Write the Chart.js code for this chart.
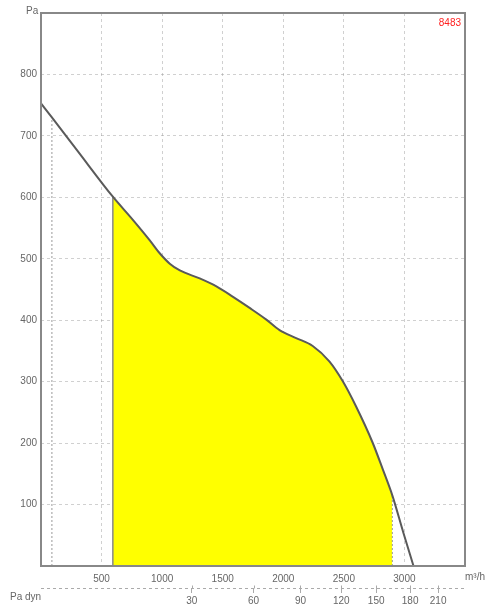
<!DOCTYPE html>
<html>
<head>
<meta charset="utf-8">
<script src="https://cdn.jsdelivr.net/npm/chart.js@4.4.1/dist/chart.umd.min.js"></script>
<style>
  html, body { margin: 0; padding: 0; background: #fff; }
  #wrap { width: 486px; height: 607px; position: relative; }
</style>
</head>
<body>
<div id="wrap"><canvas id="fanChart"></canvas></div>
<script>
// fan curve (m3/h -> Pa)
var flow     = [0, 90, 300, 593, 760, 898, 980, 1063, 1146, 1310, 1448, 1585, 1722, 1860, 1969, 2106, 2243, 2380, 2490, 2600, 2737, 2820, 2900, 2990, 3075];
var pressure = [753, 730, 676, 601, 563, 530, 509, 492, 481, 468, 455, 438, 420, 401, 384, 371, 358, 333, 301, 260, 201, 158, 115, 55, 0];

// working range (yellow) and the min flow mark
var rangeStart = 593;
var rangeEnd = 2900;
var minFlow = 90;

// dynamic pressure axis: labels and the flow where each one sits
var pdynLabels = [30, 60, 90, 120, 150, 180, 210];
var pdynFlow   = [1244, 1755, 2142, 2479, 2767, 3047, 3278];

var modelName = '8483';

var curvePts = [];
var fillPts = [];
for (var i = 0; i < flow.length; i++) {
  curvePts.push({x: flow[i], y: pressure[i]});
  if (flow[i] >= rangeStart && flow[i] <= rangeEnd) fillPts.push({x: flow[i], y: pressure[i]});
}
function pAt(q) {
  for (var j = 0; j < flow.length - 1; j++) {
    if (q >= flow[j] && q <= flow[j + 1]) {
      return pressure[j] + (pressure[j + 1] - pressure[j]) * (q - flow[j]) / (flow[j + 1] - flow[j]);
    }
  }
  return 0;
}

var gridCol = 'rgba(150,150,150,0.45)';
var txtCol = '#666';
var font10 = {family: 'Liberation Sans, Arial, sans-serif', size: 10};

var extraText = {
  id: 'extraText',
  afterDraw: function (chart) {
    var ctx = chart.ctx, a = chart.chartArea;
    ctx.save();
    // dyn pressure axis line (dashed)
    var ly = Math.round(chart.scales.x2.top) + 0.5;
    ctx.strokeStyle = '#aaa';
    ctx.lineWidth = 1;
    ctx.setLineDash([3, 3]);
    ctx.beginPath();
    ctx.moveTo(a.left, ly);
    ctx.lineTo(a.right, ly);
    ctx.stroke();
    ctx.setLineDash([]);
    // small ticks above the line
    pdynFlow.forEach(function (q) {
      var px = Math.round(chart.scales.x2.getPixelForValue(q)) + 0.5;
      ctx.beginPath();
      ctx.moveTo(px, ly - 3);
      ctx.lineTo(px, ly);
      ctx.stroke();
    });
    // plot frame
    ctx.strokeStyle = '#888';
    ctx.lineWidth = 2;
    ctx.strokeRect(a.left, a.top, a.right - a.left, a.bottom - a.top);
    ctx.font = '10px "Liberation Sans", Arial, sans-serif';
    ctx.textBaseline = 'middle';
    ctx.fillStyle = txtCol;
    ctx.textAlign = 'left';
    ctx.fillText('Pa', 26, 11);
    ctx.fillText('m\u00b3/h', 465, 577);
    ctx.fillText('Pa dyn', 10, 597);
    ctx.fillStyle = '#ff2020';
    ctx.textAlign = 'right';
    ctx.fillText(modelName, 461, 23);
    ctx.restore();
  }
};

var ctx = document.getElementById('fanChart').getContext('2d');
new Chart(ctx, {
  type: 'line',
  data: {
    datasets: [
      {
        data: curvePts,
        borderColor: '#5a5a5a',
        borderWidth: 2,
        pointRadius: 0,
        cubicInterpolationMode: 'monotone',
        fill: false
      },
      {
        data: [{x: rangeStart, y: 0}, {x: rangeStart, y: pAt(rangeStart)}],
        borderColor: '#888',
        borderWidth: 1.5,
        pointRadius: 0,
        fill: false
      },
      {
        data: [{x: rangeEnd, y: 0}, {x: rangeEnd, y: pAt(rangeEnd)}],
        borderColor: '#999',
        borderWidth: 1,
        borderDash: [2, 2],
        pointRadius: 0,
        fill: false
      },
      {
        data: [{x: minFlow, y: 0}, {x: minFlow, y: pAt(minFlow)}],
        borderColor: '#999',
        borderWidth: 1,
        borderDash: [2, 2],
        pointRadius: 0,
        fill: false
      },
      {
        data: fillPts,
        borderWidth: 0,
        borderColor: 'rgba(0,0,0,0)',
        backgroundColor: '#ffff00',
        pointRadius: 0,
        cubicInterpolationMode: 'monotone',
        fill: 'origin'
      }
    ]
  },
  options: {
    responsive: true,
    maintainAspectRatio: false,
    animation: false,
    layout: {padding: {top: 13, right: 21, left: 0, bottom: 0}},
    plugins: {legend: {display: false}, tooltip: {enabled: false}},
    scales: {
      x: {
        type: 'linear',
        position: 'bottom',
        min: 0, max: 3500,
        weight: 0,
        z: 1,
        border: {display: false, dash: [3, 3]},
        grid: {
          color: function (c) { return (c.tick.value <= 0 || c.tick.value >= 3500) ? 'rgba(0,0,0,0)' : gridCol; },
          drawTicks: false
        },
        ticks: {
          stepSize: 500,
          padding: 7,
          color: txtCol,
          font: font10,
          maxRotation: 0,
          callback: function (v) { return (v <= 0 || v >= 3500) ? '' : v; }
        },
        afterFit: function (s) { s.height = 22; }
      },
      x2: {
        type: 'linear',
        position: 'bottom',
        min: 0, max: 3500,
        weight: 1,
        border: {display: false},
        grid: {drawOnChartArea: false, drawTicks: true, tickLength: 5, color: '#aaa'},
        afterBuildTicks: function (s) {
          s.ticks = pdynFlow.map(function (v) { return {value: v}; });
        },
        ticks: {
          autoSkip: false,
          maxRotation: 0,
          padding: 2,
          color: txtCol,
          font: font10,
          callback: function (v, idx) { return pdynLabels[idx]; }
        },
        afterFit: function (s) { s.height = 19; }
      },
      y: {
        type: 'linear',
        min: 0, max: 900,
        z: 1,
        border: {display: false, dash: [3, 3]},
        grid: {
          color: function (c) { return (c.tick.value <= 0 || c.tick.value >= 900) ? 'rgba(0,0,0,0)' : gridCol; },
          drawTicks: false
        },
        ticks: {
          stepSize: 100,
          padding: 4,
          color: txtCol,
          font: font10,
          callback: function (v) { return (v <= 0 || v >= 900) ? '' : v; }
        },
        afterFit: function (s) { s.width = 41; }
      }
    }
  },
  plugins: [extraText]
});
</script>
</body>
</html>
